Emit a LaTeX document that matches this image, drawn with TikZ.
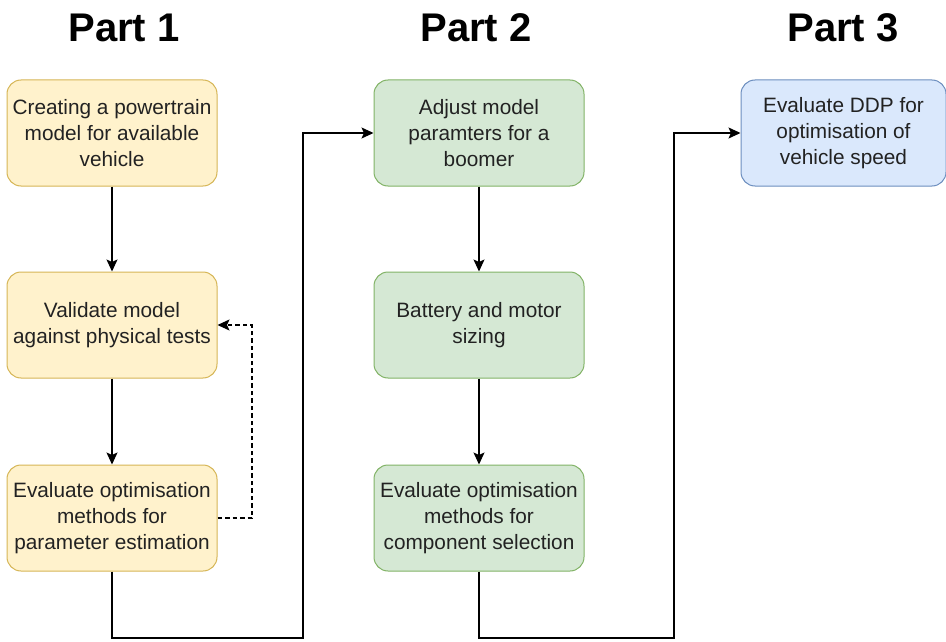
\documentclass[tikz,border=0pt]{standalone}
\usepackage{fontspec}
\setmainfont{Liberation Sans}
\usetikzlibrary{arrows.meta}
\definecolor{yfill}{HTML}{FFF2CC}
\definecolor{ydraw}{HTML}{D6B656}
\definecolor{gfill}{HTML}{D5E8D4}
\definecolor{gdraw}{HTML}{82B366}
\definecolor{bfill}{HTML}{DAE8FC}
\definecolor{bdraw}{HTML}{6C8EBF}
\definecolor{txt}{HTML}{222222}
\begin{document}
\begin{tikzpicture}[x=1pt,y=-1pt,
  box/.style={draw, rounded corners=14pt, minimum width=210pt, minimum height=106pt,
    line width=1pt, align=center, inner sep=0pt, text=txt,
    font=\fontsize{20.8}{26}\selectfont},
  ybox/.style={box, fill=yfill, draw=ydraw},
  gbox/.style={box, fill=gfill, draw=gdraw},
  bbox/.style={box, fill=bfill, draw=bdraw, minimum width=205pt},
  title/.style={anchor=base, font=\fontsize{40}{40}\selectfont\bfseries},
  arr/.style={line width=1.3pt, -{Stealth[length=12pt,width=11pt,inset=2.5pt]}},
  conn/.style={line width=1.3pt}]
\useasboundingbox (0,0) rectangle (946,642);
\fill[white] (0,0) rectangle (946,642);

\node[title] (t1) at (124,42) {Part 1};
\node[title] (t2) at (476,42) {Part 2};
\node[title] (t3) at (843,42) {Part 3};

\node[ybox] (p1a) at (112,133) {Creating a powertrain\\model for available\\vehicle};
\node[ybox] (p1b) at (112,325) {Validate model\\against physical tests};
\node[ybox] (p1c) at (112,518) {Evaluate optimisation\\methods for\\parameter estimation};

\node[gbox] (p2a) at (479,133) {Adjust model\\paramters for a\\boomer};
\node[gbox] (p2b) at (479,325) {Battery and motor\\sizing};
\node[gbox] (p2c) at (479,518) {Evaluate optimisation\\methods for\\component selection};

\node[bbox] (p3) at (843.5,133) {Evaluate DDP for\\optimisation of\\vehicle speed};

\coordinate (c1) at (303,638);
\coordinate (c2) at (674,638);
\coordinate (d1) at (252,518);

\draw[arr] (p1a.south) -- (p1b.north);
\draw[arr] (p1b.south) -- (p1c.north);
\draw[arr] (p2a.south) -- (p2b.north);
\draw[arr] (p2b.south) -- (p2c.north);
\draw[arr] (p1c.south) |- (c1) |- (p2a.west);
\draw[arr] (p2c.south) |- (c2) |- (p3.west);
\draw[arr, dashed, dash pattern=on 4.5pt off 3pt] (p1c.east) -- (d1) |- (p1b.east);
\end{tikzpicture}
\end{document}
